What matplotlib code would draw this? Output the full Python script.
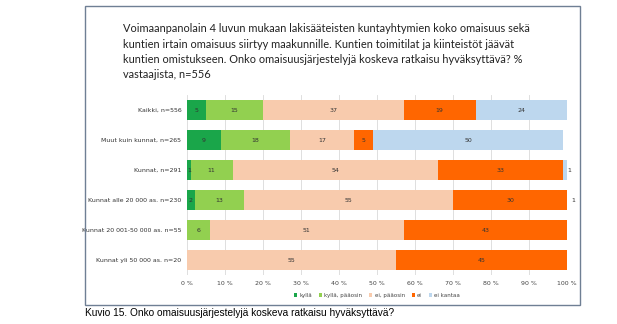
import numpy as np
import matplotlib.pyplot as plt
from matplotlib.patches import Rectangle

# data
groups = ['Kaikki, n=556', 'Muut kuin kunnat, n=265', 'Kunnat, n=291',
          'Kunnat alle 20 000 as. n=230', 'Kunnat 20 001-50 000 as. n=55',
          'Kunnat yli 50 000 as. n=20']
answers = ['kyllä', 'kyllä, pääosin', 'ei, pääosin', 'ei', 'ei kantaa']
kylla = [5, 9, 1, 2, 0, 0]
kylla_paaosin = [15, 18, 11, 13, 6, 0]
ei_paaosin = [37, 17, 54, 55, 51, 55]
ei = [19, 5, 33, 30, 43, 45]
ei_kantaa = [24, 50, 1, 1, 0, 0]
ticks = [0, 10, 20, 30, 40, 50, 60, 70, 80, 90, 100]

colors = ['#1aa64a', '#92d050', '#f8cbad', '#ff6600', '#bdd7ee']
title = ('Voimaanpanolain 4 luvun mukaan lakisääteisten kuntayhtymien koko omaisuus sekä\n'
         'kuntien irtain omaisuus siirtyy maakunnille. Kuntien toimitilat ja kiinteistöt jäävät\n'
         'kuntien omistukseen. Onko omaisuusjärjestelyjä koskeva ratkaisu hyväksyttävä? %\n'
         'vastaajista, n=556')
caption = 'Kuvio 15. Onko omaisuusjärjestelyjä koskeva ratkaisu hyväksyttävä?'

W, H = 617, 324
fig = plt.figure(figsize=(W / 100, H / 100), dpi=100)

# outer frame
fig.patches.append(Rectangle((85 / W, 1 - 305 / H), 495 / W, 299 / H,
                             transform=fig.transFigure, fill=False,
                             edgecolor='#6f7f94', linewidth=1.0))

fig.text(123 / W, 1 - 23 / H, title, ha='left', va='top', fontsize=7.9,
         family='Lato', color='#222222', linespacing=1.5)
fig.text(85 / W, 1 - 313 / H, caption, ha='left', va='center', fontsize=7.3,
         family='Liberation Sans', color='black')

ax = fig.add_axes([187 / W, 1 - 275 / H, 380 / W, 180 / H])
series = [kylla, kylla_paaosin, ei_paaosin, ei, ei_kantaa]
y = np.arange(len(groups))
left = np.zeros(len(groups))
for vals, col, name in zip(series, colors, answers):
    vals = np.array(vals, dtype=float)
    ax.barh(y, vals, left=left, height=0.68, color=col, label=name, zorder=2)
    for yi, (l, v) in enumerate(zip(left, vals)):
        if v <= 0:
            continue
        if v <= 1 and name == 'ei kantaa':
            ax.text(l + v + 0.2, yi, f'{int(v)}', ha='left', va='center',
                    fontsize=4.5, color='#333333')
        else:
            ax.text(l + v / 2, yi, f'{int(v)}', ha='center', va='center',
                    fontsize=4.5, color='#333333', zorder=3)
    left += vals

ax.set_xlim(0, 100)
ax.set_ylim(len(groups) - 0.5, -0.5)
ax.set_yticks(y)
ax.set_yticklabels(groups, fontsize=4.5, color='#333333')
ax.set_xticks(ticks)
ax.set_xticklabels([f'{t} %' for t in ticks], fontsize=4.5, color='#444444')
ax.tick_params(length=0, pad=4)
ax.xaxis.grid(True, color='#d9d9d9', linewidth=0.6, zorder=0)
ax.set_axisbelow(True)
for s in ax.spines.values():
    s.set_visible(False)

ax.legend(loc='center', bbox_to_anchor=(0.5, -0.115), ncol=5, frameon=False,
          fontsize=4, handlelength=0.6, handleheight=0.6, handletextpad=0.4,
          columnspacing=1.2, labelcolor='#444444')

plt.savefig('out.png', dpi=100)
